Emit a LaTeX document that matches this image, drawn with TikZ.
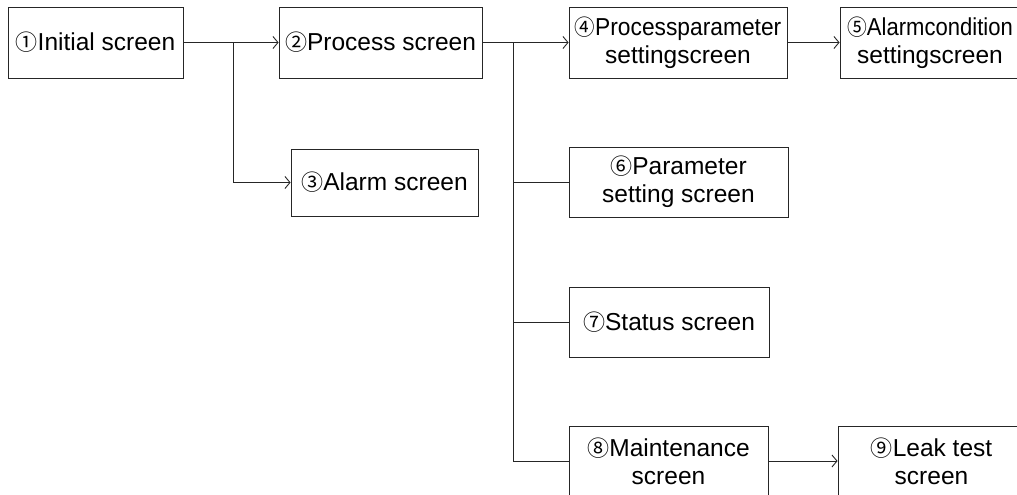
\documentclass[tikz,border=0pt]{standalone}
\usepackage{fontspec}
\setmainfont{Liberation Sans}
\newfontfamily\symfont{Noto Sans CJK JP}
\usetikzlibrary{arrows.meta}
\newcommand{\cnum}[1]{{\symfont\fontsize{22}{28}\selectfont #1}}
\newcommand{\sq}[2][0.93]{\scalebox{#1}[1]{#2}}
\begin{document}
\begin{tikzpicture}[x=1pt,y=-1pt,
  box/.style={draw=black!85, line width=0.9pt, inner sep=0pt, align=center,
    font=\fontsize{24.5}{28}\selectfont, minimum height=70pt},
  conn/.style={draw=black!85, line width=0.9pt},
  arr/.style={conn, -{Straight Barb[length=5pt,width=12pt]}}]
\useasboundingbox (0,0) rectangle (1017,495);
\clip (0,0) rectangle (1017,495);
\fill[white] (0,0) rectangle (1017,495);
\node[box, minimum width=175pt, minimum height=71pt] (n1) at (95.5,42.5) {\cnum{①}Initial screen};
\node[box, minimum width=203pt, minimum height=71pt] (n2) at (380.5,42.5) {\cnum{②}Process screen};
\node[box, minimum width=187pt, minimum height=67pt] (n3) at (384.5,182.5) {\cnum{③}Alarm screen};
\node[box, minimum width=218pt, minimum height=71pt] (n4) at (678,42.5) {\sq{\cnum{④}Processparameter}\\settingscreen};
\node[box, minimum width=180pt, minimum height=71pt] (n5) at (930,42.5) {\sq[0.9]{\cnum{⑤}Alarmcondition}\\settingscreen};
\node[box, minimum width=219pt] (n6) at (678.5,182) {\cnum{⑥}Parameter\\setting screen};
\node[box, minimum width=200pt] (n7) at (669,322) {\cnum{⑦}Status screen};
\node[box, minimum width=199pt] (n8) at (668.5,461) {\cnum{⑧}Maintenance\\screen};
\node[box, minimum width=187pt] (n9) at (931.5,461) {\cnum{⑨}Leak test\\screen};
\coordinate (j1) at (233,42.5);
\coordinate (j2) at (513,42.5);
\draw[arr] (n1) -- (n2);
\draw[arr] (j1) |- (n3.west);
\draw[arr] (n2) -- (n4);
\draw[arr] (n4) -- (n5);
\draw[conn] (j2) |- (n8.west);
\draw[conn] (j2 |- n6.west) -- (n6.west);
\draw[conn] (j2 |- n7.west) -- (n7.west);
\draw[arr] (n8) -- (n9);
\end{tikzpicture}
\end{document}
